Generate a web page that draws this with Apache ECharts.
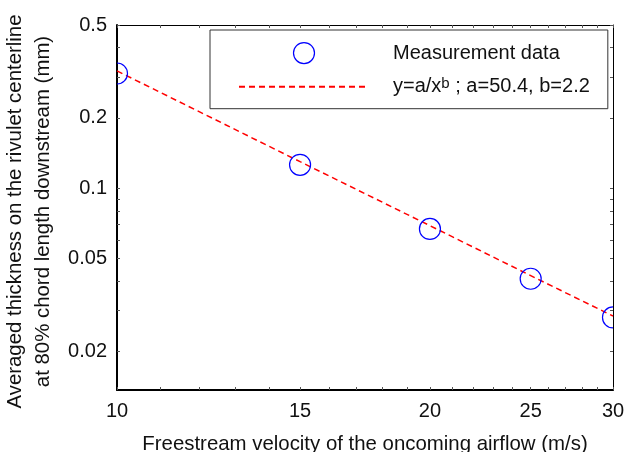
<!DOCTYPE html>
<html>
<head>
<meta charset="utf-8">
<script src="https://cdn.jsdelivr.net/npm/echarts@6/dist/echarts.min.js"></script>
<style>
  html, body { margin: 0; padding: 0; background: #fff; }
  #chart { width: 625px; height: 452px; }
</style>
</head>
<body>
<div id="chart"></div>
<script>
// values
const velocity = [10, 15, 20, 25, 30];
const thickness = [0.31, 0.126, 0.067, 0.041, 0.028];
const fitThickness = [0.318, 0.130, 0.0692, 0.0423, 0.0284];
const xTicks = [10, 11, 12, 13, 14, 15, 16, 17, 18, 19, 20, 21, 22, 23, 24, 25, 26, 27, 28, 29, 30];
const xLabels = [10, 15, 20, 25, 30];
const yTicks = [0.02, 0.03, 0.04, 0.05, 0.06, 0.07, 0.08, 0.09, 0.1, 0.2, 0.3, 0.4, 0.5];
const yLabels = [0.02, 0.05, 0.1, 0.2, 0.5];
const measName = 'Measurement data';
const fitName = 'y=a/x^b ; a=50.4, b=2.2';

const font = "'Liberation Sans', Arial, sans-serif";
const chart = echarts.init(document.getElementById('chart'));

const tickStyle = { inside: true, length: 3, lineStyle: { color: '#555', width: 1 } };

const option = {
  animation: false,
  textStyle: { fontFamily: font },
  grid: { left: 117, top: 25, right: 12, bottom: 62, outerBoundsMode: 'none' },
  legend: {
    left: 210,
    top: 30,
    orient: 'vertical',
    padding: [12, 18, 12, 28],
    itemWidth: 130,
    itemHeight: 21,
    itemGap: 12,
    borderColor: '#333',
    borderWidth: 1,
    data: [
      { name: measName, icon: 'circle', itemStyle: { color: 'rgba(0,0,0,0)', borderColor: '#0000ff', borderWidth: 1.2 } },
      { name: fitName, itemStyle: { color: 'rgba(0,0,0,0)', borderWidth: 0, opacity: 0 } }
    ],
    formatter: function (name) {
      return name === fitName ? 'y=a/x{sup|b} ; a=50.4, b=2.2' : name;
    },
    textStyle: {
      fontSize: 20,
      color: '#111',
      padding: [0, 0, 0, 19],
      rich: {
        sup: { fontSize: 15, verticalAlign: 'top', padding: [0, 0, 6, 0], color: '#111' }
      }
    }
  },
  xAxis: [
    {
      type: 'log', logBase: 10, min: 10, max: 30,
      position: 'bottom',
      name: 'Freestream velocity of the oncoming airflow (m/s)',
      nameLocation: 'middle',
      nameGap: 44,
      nameTextStyle: { fontSize: 20.4, color: '#111' },
      axisLine: { lineStyle: { color: '#000', width: 2 } },
      axisTick: Object.assign({ customValues: xTicks }, tickStyle),
      axisLabel: { customValues: xLabels, fontSize: 20, color: '#111', margin: 11 },
      splitLine: { show: false },
      minorTick: { show: false }
    },
    {
      type: 'log', logBase: 10, min: 10, max: 30,
      position: 'top',
      axisLine: { lineStyle: { color: '#000', width: 1 } },
      axisTick: Object.assign({ customValues: xTicks }, tickStyle),
      axisLabel: { show: false },
      splitLine: { show: false }
    }
  ],
  yAxis: [
    {
      type: 'log', logBase: 10, min: 0.0137, max: 0.5,
      position: 'left',
      name: 'Averaged thickness on the rivulet centerline\nat 80% chord length downstream (mm)',
      nameLocation: 'middle',
      nameGap: 50,
      nameRotate: 90,
      nameTextStyle: { fontSize: 20.4, color: '#111', lineHeight: 28, padding: [0, 8, 0, 0] },
      axisLine: { lineStyle: { color: '#000', width: 2 } },
      axisTick: Object.assign({ customValues: yTicks }, tickStyle),
      axisLabel: { customValues: yLabels, fontSize: 20, color: '#111', margin: 10 },
      splitLine: { show: false }
    },
    {
      type: 'log', logBase: 10, min: 0.0137, max: 0.5,
      position: 'right',
      axisLine: { lineStyle: { color: '#000', width: 1 } },
      axisTick: Object.assign({ customValues: yTicks }, tickStyle),
      axisLabel: { show: false },
      splitLine: { show: false }
    }
  ],
  series: [
    {
      name: fitName,
      type: 'line',
      data: velocity.map((v, i) => [v, fitThickness[i]]),
      symbol: 'none',
      lineStyle: { color: '#ff0000', width: 1.5, type: [6, 4] },
      itemStyle: { color: '#ff0000' },
      z: 2
    },
    {
      name: measName,
      type: 'custom',
      coordinateSystem: 'cartesian2d',
      clip: true,
      data: velocity.map((v, i) => [v, thickness[i]]),
      encode: { x: 0, y: 1 },
      itemStyle: { color: 'rgba(0,0,0,0)', borderColor: '#0000ff', borderWidth: 1.2 },
      renderItem: function (params, api) {
        const pt = api.coord([api.value(0), api.value(1)]);
        return {
          type: 'circle',
          shape: { cx: pt[0], cy: pt[1], r: 10.5 },
          style: { fill: 'none', stroke: '#0000ff', lineWidth: 1.2 }
        };
      },
      z: 3
    }
  ]
};

chart.setOption(option);
</script>
</body>
</html>
